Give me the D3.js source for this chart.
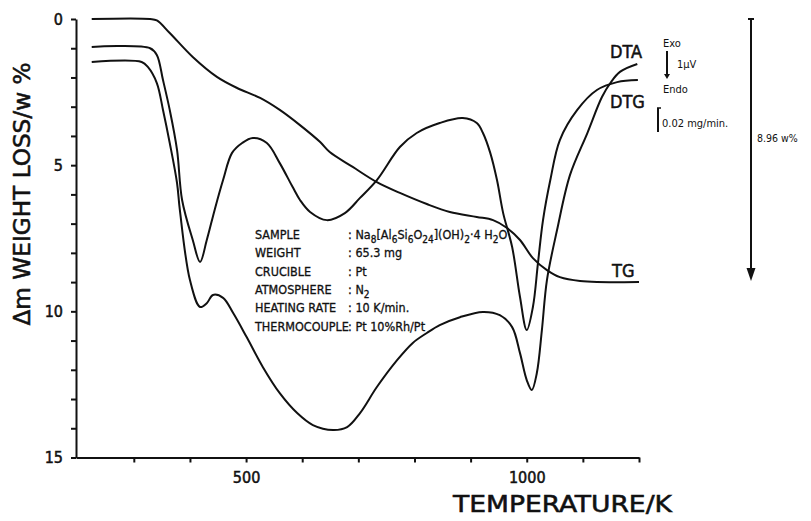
<!DOCTYPE html>
<html>
<head>
<meta charset="utf-8">
<script src="https://cdnjs.cloudflare.com/ajax/libs/d3/7.8.5/d3.min.js"></script>
<style>
  body { margin: 0; background: #fff; }
  svg text { font-family: "DejaVu Sans Condensed", "Liberation Sans Narrow", "DejaVu Sans", sans-serif; fill: #111; }
  .axis path, .axis line { stroke: #111; stroke-width: 2; }
  .heavy { stroke: #111; stroke-width: 0.5; }
</style>
</head>
<body>
<div id="chart"></div>
<script>
// TG curve (weight loss, w%)
var tgTemp = [225, 329, 341, 364, 405, 448, 484, 525, 560, 596, 632, 649, 690, 733, 774, 822, 863, 911, 940, 965, 988, 1011, 1036, 1059, 1095, 1200];
var tgVal  = [0, 0, 0.05, 0.48, 1.30, 1.98, 2.36, 2.70, 3.11, 3.63, 4.21, 4.55, 5.06, 5.58, 5.95, 6.33, 6.60, 6.77, 6.88, 7.15, 7.56, 8.18, 8.59, 8.83, 8.96, 9.00];

// DTG curve (drawn on the w% scale)
var dtgTemp = [225, 329, 341, 352, 364, 377, 386, 405, 418, 430, 444, 459, 475, 493, 512, 537, 560, 583, 596, 614, 644, 676, 703, 733, 774, 804, 845, 886, 911, 922, 935, 947, 958, 974, 988, 1000, 1011, 1020, 1029, 1042, 1059, 1090, 1125, 1161, 1198];
var dtgVal  = [0.96, 1.00, 1.23, 2.09, 3.11, 4.48, 6.19, 7.56, 8.31, 7.56, 6.53, 5.51, 4.58, 4.24, 4.07, 4.24, 4.93, 5.75, 6.19, 6.60, 6.88, 6.64, 6.12, 5.51, 4.38, 3.90, 3.56, 3.39, 3.56, 3.90, 4.58, 5.51, 6.64, 7.80, 9.51, 10.64, 9.85, 8.35, 6.88, 5.51, 4.14, 3.11, 2.43, 2.16, 2.09];

// DTA curve (drawn on the w% scale)
var dtaTemp = [225, 314, 325, 341, 352, 364, 377, 382, 400, 418, 430, 441, 459, 477, 501, 530, 560, 591, 619, 655, 680, 703, 733, 769, 797, 822, 845, 881, 922, 952, 974, 988, 1000, 1009, 1018, 1027, 1036, 1054, 1077, 1108, 1134, 1149, 1166, 1197];
var dtaVal  = [1.47, 1.47, 1.64, 2.19, 3.11, 4.24, 5.61, 6.53, 8.93, 9.85, 9.72, 9.44, 9.54, 10.06, 10.88, 11.91, 12.80, 13.48, 13.89, 14.06, 13.96, 13.48, 12.59, 11.67, 11.08, 10.74, 10.47, 10.20, 10.02, 10.13, 10.54, 11.43, 12.35, 12.69, 12.11, 10.64, 8.93, 7.22, 5.34, 3.90, 2.67, 2.19, 1.81, 1.54];

var xTicks = [300, 400, 500, 600, 700, 800, 900, 1000, 1100, 1200];
var xLabels = [500, 1000];
var yTicks = d3.range(0, 16);
var yLabels = [0, 5, 10, 15];
var tgTotal = 8.96;

var infoLabels = ["SAMPLE", "WEIGHT", "CRUCIBLE", "ATMOSPHERE", "HEATING RATE", "THERMOCOUPLE"];
var infoValues = ["Na_8[Al_6Si_6O_24](OH)_2·4 H_2O", "65.3 mg", "Pt", "N_2", "10 K/min.", "Pt 10%Rh/Pt"];

var width = 811, height = 521;

var svg = d3.select("#chart").append("svg")
  .attr("width", width).attr("height", height);

var x = d3.scaleLinear().domain([197, 1200]).range([76, 639]);
var y = d3.scaleLinear().domain([0, 15]).range([19, 457.5]);

// axes
var yAxis = d3.axisLeft(y).tickValues(yTicks).tickSize(5).tickSizeOuter(0).tickPadding(8)
  .tickFormat(function(d){ return yLabels.indexOf(d) >= 0 ? d : ""; });
var xAxis = d3.axisBottom(x).tickValues(xTicks).tickSize(5).tickSizeOuter(0).tickPadding(9)
  .tickFormat(function(d){ return xLabels.indexOf(d) >= 0 ? d : ""; });

var gy = svg.append("g").attr("class", "axis").attr("transform", "translate(" + x.range()[0] + ",0)").call(yAxis);
var gx = svg.append("g").attr("class", "axis").attr("transform", "translate(0," + y.range()[1] + ")").call(xAxis);
svg.selectAll(".axis text").attr("font-size", 16).attr("class", "heavy").style("font-family", null);

// axis titles
svg.append("text").attr("class", "heavy")
  .attr("transform", "translate(30,194) rotate(-90)")
  .attr("text-anchor", "middle").attr("font-size", 23)
  .attr("textLength", 263).attr("lengthAdjust", "spacingAndGlyphs")
  .text("Δm WEIGHT LOSS/w %");
svg.append("text").attr("class", "heavy")
  .attr("x", 453).attr("y", 512).attr("font-size", 23)
  .attr("textLength", 219).attr("lengthAdjust", "spacingAndGlyphs")
  .text("TEMPERATURE/K");

// curves
var line = d3.line()
  .x(function(d){ return x(d[0]); })
  .y(function(d){ return y(d[1]); })
  .curve(d3.curveCatmullRom.alpha(0.5));

function pairs(t, v){ return t.map(function(d, i){ return [d, v[i]]; }); }

[[tgTemp, tgVal], [dtgTemp, dtgVal], [dtaTemp, dtaVal]].forEach(function(s){
  svg.append("path")
    .attr("d", line(pairs(s[0], s[1])))
    .attr("fill", "none").attr("stroke", "#111").attr("stroke-width", 2)
    .attr("stroke-linejoin", "round");
});

// curve labels
svg.append("text").attr("class", "heavy").attr("x", 610).attr("y", 58).attr("font-size", 18).text("DTA");
svg.append("text").attr("class", "heavy").attr("x", 610).attr("y", 108).attr("font-size", 18).text("DTG");
svg.append("text").attr("class", "heavy").attr("x", 612).attr("y", 277).attr("font-size", 18).text("TG");

// experiment info block
var info = svg.append("g").attr("font-size", 12.5);
infoLabels.forEach(function(lab, i){
  var by = 239 + i * 18.3;
  info.append("text").attr("class", "heavy").style("stroke-width", 0.3).attr("x", 255).attr("y", by).text(lab);
  var t = info.append("text").attr("class", "heavy").style("stroke-width", 0.3).attr("x", 348).attr("y", by);
  t.append("tspan").text(": ");
  var parts = infoValues[i].match(/_\d+|[^_]+/g);
  var sub = false;
  parts.forEach(function(p){
    if (p[0] == "_") {
      t.append("tspan").attr("dy", sub ? 0 : 4).attr("font-size", 10).text(p.slice(1));
      sub = true;
    } else {
      t.append("tspan").attr("dy", sub ? -4 : 0).text(p);
      sub = false;
    }
  });
});

// Exo / Endo scale
var ann = svg.append("g").attr("font-size", 11);
ann.append("text").attr("x", 663).attr("y", 47).text("Exo");
ann.append("text").attr("x", 677).attr("y", 68).text("1μV");
ann.append("text").attr("x", 663).attr("y", 93).text("Endo");
ann.append("line").attr("x1", 667).attr("x2", 667).attr("y1", 51).attr("y2", 75)
  .attr("stroke", "#111").attr("stroke-width", 2);
ann.append("path").attr("d", "M664,74L670,74L667,79Z").attr("fill", "#111");

// DTG scale bar
ann.append("line").attr("x1", 658).attr("x2", 658).attr("y1", 108).attr("y2", 132)
  .attr("stroke", "#111").attr("stroke-width", 2);
ann.append("line").attr("x1", 657).attr("x2", 661).attr("y1", 108).attr("y2", 108)
  .attr("stroke", "#111").attr("stroke-width", 1.5);
ann.append("text").attr("x", 662).attr("y", 127).text("0.02 mg/min.");

// total weight loss arrow
var ax = 751;
svg.append("line").attr("x1", ax).attr("x2", ax).attr("y1", y(0)).attr("y2", y(tgTotal) - 10)
  .attr("stroke", "#111").attr("stroke-width", 2);
svg.append("line").attr("x1", ax - 3).attr("x2", ax + 3).attr("y1", y(0)).attr("y2", y(0))
  .attr("stroke", "#111").attr("stroke-width", 2);
svg.append("path")
  .attr("d", "M" + (ax - 4.5) + "," + (y(tgTotal) - 13) + "L" + (ax + 4.5) + "," + (y(tgTotal) - 13) + "L" + ax + "," + y(tgTotal) + "Z")
  .attr("fill", "#111");
svg.append("text").attr("x", 757).attr("y", 142).attr("font-size", 10.5).text("8.96 w%");
</script>
</body>
</html>
